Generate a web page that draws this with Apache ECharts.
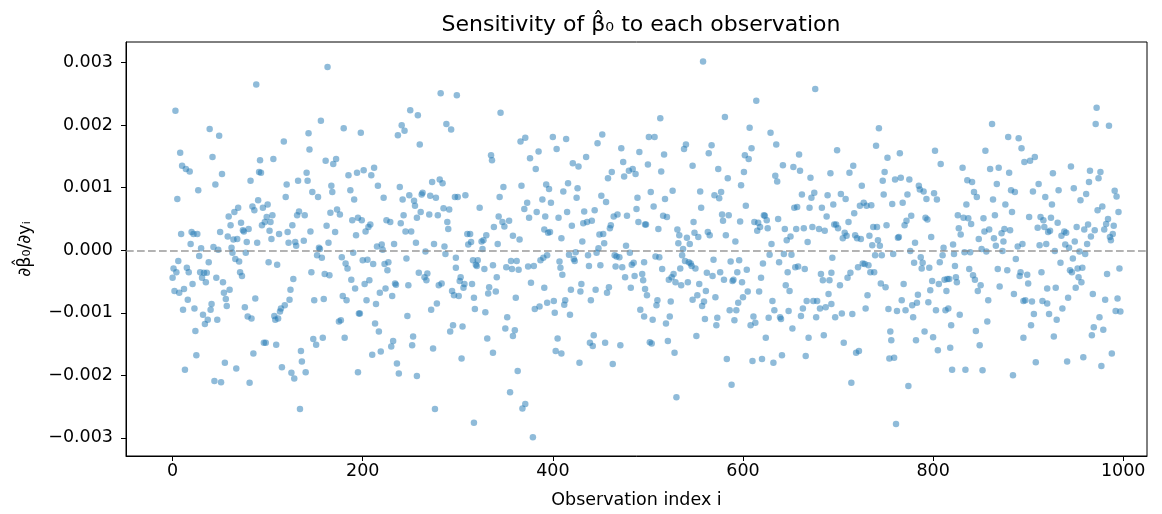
<!DOCTYPE html>
<html>
<head>
<meta charset="utf-8">
<script src="https://cdn.jsdelivr.net/npm/echarts@6/dist/echarts.min.js"></script>
<style>
  html, body { margin: 0; padding: 0; background: #fff; }
  #main { width: 1162px; height: 514px; }
</style>
</head>
<body>
<div id="main"></div>
<script>
// [observation index i, d(beta0_hat)/d(y_i) in units of 1e-3]
var obsA = [[88,2.65],[3,2.23],[39,1.94],[49,1.83],[8,1.56],[42,1.49],[92,1.44],[10,1.35],[14,1.30],[18,1.26],
  [52,1.22],[91,1.25],[93,1.24],[82,1.11],[45,1.05],[27,0.96],[5,0.82],[90,0.80],[84,0.70],[86,0.64],
  [95,0.68],[69,0.68],[65,0.61],[59,0.54],[61,0.40],[72,0.44],[94,0.40],[74,0.32],[75,0.30],[80,0.34],
  [9,0.26],[20,0.29],[22,0.26],[26,0.26],[50,0.29],[58,0.22],[64,0.17],[68,0.18],[78,0.13],[89,0.12],
  [19,0.10],[30,0.03],[43,0.05],[48,0.01],[62,0.04],[63,-0.04],[77,-0.04],[28,-0.09],[6,-0.17],[38,-0.19],
  [66,-0.14],[70,-0.18],[1,-0.29],[15,-0.28],[4,-0.35],[17,-0.35],[29,-0.35],[33,-0.36],[36,-0.36],[71,-0.35],
  [73,-0.41],[0,-0.44],[31,-0.44],[46,-0.44],[35,-0.51],[53,-0.51],[21,-0.54],[12,-0.62],[2,-0.65],[7,-0.68],
  [60,-0.63],[54,-0.68],[56,-0.78],[87,-0.77],[16,-0.79],[57,-0.89],[41,-0.86],[11,-0.95],[23,-0.93],[40,-0.95],
  [76,-0.91],[32,-1.03],[37,-1.11],[34,-1.18],[47,-1.11],[79,-1.06],[83,-1.09],[24,-1.29],[96,-1.48],[85,-1.65],
  [25,-1.68],[55,-1.80],[67,-1.89],[13,-1.91],[44,-2.09],[51,-2.11],[81,-2.12]];

var obsB = [[163,2.93],[156,2.07],[180,1.95],[143,1.87],[117,1.74],[144,1.61],[106,1.46],[161,1.43],[172,1.46],[169,1.38],
  [141,1.24],[185,1.20],[194,1.24],[120,1.05],[132,1.11],[142,1.11],[167,1.03],[147,0.93],[168,0.93],[187,0.96],
  [119,0.85],[153,0.85],[191,0.81],[100,0.73],[173,0.65],[166,0.60],[176,0.57],[105,0.56],[99,0.53],[131,0.56],
  [133,0.62],[139,0.56],[189,0.48],[195,0.52],[103,0.45],[97,0.45],[126,0.40],[162,0.39],[102,0.31],[112,0.26],
  [121,0.29],[145,0.30],[171,0.29],[193,0.24],[104,0.18],[122,0.12],[129,0.13],[138,0.15],[164,0.12],[130,0.07],
  [154,0.04],[155,0.02],[152,-0.08],[157,-0.12],[190,-0.04],[101,-0.19],[110,-0.23],[178,-0.11],[182,-0.21],[184,-0.29],
  [146,-0.35],[160,-0.38],[165,-0.40],[127,-0.46],[188,-0.47],[192,-0.61],[124,-0.63],[179,-0.73],[183,-0.80],[149,-0.80],
  [159,-0.78],[123,-0.79],[118,-0.88],[114,-0.93],[113,-0.98],[107,-1.05],[111,-1.09],[108,-1.11],[177,-1.12],[175,-1.14],
  [196,-1.01],[98,-1.48],[109,-1.51],[148,-1.42],[151,-1.51],[158,-1.40],[181,-1.40],[135,-1.61],[136,-1.78],[115,-1.87],
  [125,-1.96],[128,-2.05],[140,-1.95],[195,-1.95],[134,-2.54]];

var obsC = [[282,2.51],[250,2.24],[258,2.16],[241,2.00],[288,2.02],[244,1.91],[237,1.84],[293,1.93],[198,1.88],[260,1.69],
  [201,1.28],[212,1.32],[209,1.20],[216,1.03],[239,1.01],[281,1.13],[284,1.07],[273,1.09],[263,0.92],[262,0.89],
  [271,0.87],[277,0.84],[249,0.88],[242,0.81],[222,0.84],[254,0.79],[255,0.71],[297,0.85],[285,0.67],[291,0.65],
  [261,0.61],[270,0.57],[279,0.56],[257,0.52],[243,0.56],[199,0.48],[225,0.48],[229,0.45],[289,0.45],[208,0.41],
  [206,0.37],[240,0.43],[203,0.30],[245,0.30],[251,0.30],[290,0.34],[233,0.10],[256,0.12],[275,0.10],[215,0.06],
  [220,0.09],[221,0.01],[286,0.06],[266,-0.02],[287,-0.06],[298,-0.12],[200,-0.16],[205,-0.15],[211,-0.22],[227,-0.19],
  [223,-0.22],[226,-0.32],[246,-0.13],[259,-0.36],[268,-0.37],[265,-0.43],[267,-0.48],[207,-0.48],[202,-0.54],[218,-0.68],
  [224,-0.61],[234,-0.53],[235,-0.55],[248,-0.56],[280,-0.56],[283,-0.53],[231,-0.73],[204,-0.80],[214,-0.86],[294,-0.65],
  [296,-0.72],[278,-0.85],[272,-0.95],[197,-1.01],[247,-1.05],[213,-1.17],[217,-1.30],[292,-1.30],[295,-1.20],[232,-1.45],
  [230,-1.54],[253,-1.38],[252,-1.52],[219,-1.62],[210,-1.67],[274,-1.57],[236,-1.81],[238,-1.97],[257,-2.01],[276,-2.54]];

var obsD = [[299,2.48],[345,2.20],[366,1.74],[371,1.80],[385,1.58],[335,1.52],[336,1.44],[376,1.47],[382,1.30],[300,0.85],
  [308,0.88],[348,1.01],[344,0.85],[367,1.03],[393,1.05],[396,0.98],[323,0.68],[373,0.76],[370,0.66],[375,0.52],
  [383,0.61],[389,0.81],[392,0.54],[343,0.54],[347,0.45],[354,0.47],[349,0.38],[338,0.37],[330,0.24],[310,0.26],
  [313,0.26],[311,0.09],[314,0.13],[327,0.16],[325,0.14],[326,0.02],[342,0.10],[358,0.23],[365,0.17],[391,0.33],
  [395,0.28],[394,-0.08],[387,-0.16],[390,-0.12],[298,-0.28],[316,-0.16],[321,-0.16],[319,-0.23],[320,-0.25],[328,-0.30],
  [337,-0.24],[351,-0.27],[356,-0.17],[357,-0.30],[362,-0.17],[364,-0.31],[374,-0.26],[380,-0.25],[341,-0.43],[302,-0.49],
  [303,-0.43],[307,-0.54],[306,-0.60],[315,-0.54],[301,-0.73],[333,-0.59],[332,-0.69],[340,-0.66],[317,-0.76],[361,-0.76],
  [377,-0.52],[391,-0.60],[318,-0.94],[329,-0.99],[381,-0.94],[386,-0.90],[352,-1.07],[305,-1.22],[350,-1.25],[360,-1.28],
  [358,-1.37],[331,-1.41],[337,-1.64],[304,-1.73],[363,-1.93],[355,-2.27],[371,-2.46],[368,-2.53],[317,-2.76],[379,-2.99]];

var obsE = [[400,1.81],[414,1.78],[404,1.62],[452,1.85],[447,1.71],[472,1.63],[491,1.57],[421,1.39],[427,1.34],[435,1.49],
  [474,1.41],[462,1.25],[458,1.15],[475,1.18],[480,1.27],[484,1.30],[487,1.22],[416,1.07],[411,0.94],[426,0.99],
  [425,0.84],[398,0.76],[451,0.87],[456,0.77],[489,0.84],[488,0.66],[415,0.61],[406,0.52],[433,0.62],[444,0.64],
  [464,0.54],[468,0.57],[478,0.55],[490,0.45],[497,0.41],[432,0.43],[436,0.45],[441,0.47],[420,0.39],[461,0.40],
  [460,0.35],[397,0.29],[409,0.19],[449,0.25],[453,0.26],[431,0.14],[454,0.11],[477,0.07],[448,0.03],[424,-0.03],
  [417,-0.07],[422,-0.14],[423,-0.17],[437,-0.08],[446,-0.04],[465,-0.08],[467,-0.10],[470,-0.11],[481,-0.04],[407,-0.18],
  [408,-0.28],[410,-0.39],[438,-0.25],[450,-0.24],[466,-0.26],[473,-0.27],[483,-0.23],[485,-0.20],[496,-0.19],[494,-0.38],
  [476,-0.43],[486,-0.41],[495,-0.48],[430,-0.54],[419,-0.63],[429,-0.66],[445,-0.63],[459,-0.59],[457,-0.68],[482,-0.60],
  [497,-0.62],[394,-0.84],[401,-0.81],[402,-1.00],[413,-0.80],[412,-0.87],[418,-1.03],[440,-0.80],[492,-0.95],[496,-1.06],
  [405,-1.41],[403,-1.61],[409,-1.65],[443,-1.36],[439,-1.48],[442,-1.53],[455,-1.48],[471,-1.52],[428,-1.80],[463,-1.82]];

var obsF = [[558,3.02],[581,2.13],[513,2.11],[501,1.81],[507,1.81],[540,1.69],[538,1.62],[567,1.68],[564,1.55],[517,1.53],
  [500,1.37],[514,1.26],[547,1.35],[574,1.30],[584,1.15],[503,0.93],[526,0.95],[555,0.94],[570,0.88],[575,0.83],
  [577,0.93],[518,0.82],[506,0.70],[556,0.68],[578,0.57],[585,0.56],[579,0.47],[516,0.55],[520,0.53],[498,0.41],
  [548,0.45],[511,0.34],[531,0.33],[533,0.24],[541,0.20],[544,0.10],[549,0.28],[553,0.21],[563,0.29],[565,0.24],
  [582,0.24],[592,0.14],[532,0.11],[537,0.02],[536,-0.08],[539,-0.17],[543,-0.19],[545,-0.21],[546,-0.25],[550,-0.29],
  [508,-0.10],[512,-0.11],[569,-0.15],[587,-0.18],[596,-0.16],[515,-0.30],[534,-0.29],[522,-0.47],[525,-0.43],[527,-0.38],
  [529,-0.51],[535,-0.56],[542,-0.51],[562,-0.36],[568,-0.41],[576,-0.35],[580,-0.47],[589,-0.49],[590,-0.47],[594,-0.35],
  [554,-0.54],[499,-0.72],[509,-0.88],[510,-0.80],[524,-0.82],[547,-0.79],[552,-0.72],[557,-0.89],[559,-0.82],[561,-0.65],
  [571,-0.75],[595,-0.84],[505,-1.11],[519,-1.17],[523,-1.06],[560,-1.10],[573,-1.08],[572,-1.20],[586,-0.96],[591,-1.12],
  [502,-1.47],[504,-1.49],[521,-1.45],[551,-1.37],[528,-1.64],[583,-1.74],[588,-2.15],[530,-2.35]];

var obsG = [[676,2.58],[614,2.39],[607,1.96],[629,1.88],[635,1.69],[609,1.63],[602,1.52],[606,1.46],[659,1.53],[642,1.36],
  [653,1.33],[660,1.27],[601,1.25],[634,1.19],[636,1.10],[671,1.16],[692,1.23],[598,1.04],[662,0.89],[675,0.92],
  [672,0.84],[689,0.88],[603,0.71],[654,0.68],[657,0.69],[670,0.68],[683,0.68],[695,0.73],[688,0.54],[622,0.56],
  [623,0.55],[625,0.48],[637,0.50],[597,0.46],[612,0.45],[616,0.44],[618,0.37],[615,0.31],[626,0.35],[644,0.34],
  [656,0.34],[664,0.35],[673,0.37],[680,0.34],[686,0.31],[696,0.41],[650,0.22],[646,0.16],[668,0.13],[630,0.10],
  [628,-0.07],[643,-0.06],[651,-0.07],[621,-0.21],[638,-0.19],[655,-0.27],[658,-0.26],[665,-0.30],[647,-0.35],[694,-0.12],
  [682,-0.38],[684,-0.48],[691,-0.48],[693,-0.36],[604,-0.31],[599,-0.51],[619,-0.44],[645,-0.56],[649,-0.65],[605,-0.66],
  [617,-0.66],[600,-0.75],[690,-0.70],[593,-0.96],[631,-0.81],[633,-0.96],[648,-0.97],[667,-0.81],[674,-0.81],[678,-0.81],
  [663,-0.93],[681,-0.93],[687,-0.91],[693,-0.86],[697,-1.07],[639,-1.07],[640,-1.10],[627,-1.08],[611,-1.06],[608,-1.20],
  [613,-1.16],[677,-1.07],[661,-1.05],[652,-1.25],[685,-1.36],[669,-1.40],[624,-1.40],[610,-1.77],[620,-1.74],[632,-1.80],
  [641,-1.68],[666,-1.69]];

var obsH = [[743,1.95],[740,1.67],[699,1.60],[752,1.48],[765,1.55],[712,1.24],[716,1.35],[749,1.25],[747,1.11],[760,1.13],
  [766,1.16],[775,1.13],[725,1.03],[785,1.03],[786,0.97],[790,0.94],[793,0.82],[703,0.90],[708,0.82],[748,0.89],
  [773,0.89],[757,0.74],[768,0.76],[723,0.71],[727,0.76],[730,0.71],[735,0.72],[717,0.59],[777,0.55],[772,0.47],
  [770,0.40],[792,0.52],[794,0.49],[711,0.45],[698,0.41],[700,0.35],[707,0.28],[705,0.19],[709,0.23],[718,0.24],
  [720,0.19],[724,0.18],[733,0.23],[737,0.37],[741,0.37],[742,0.16],[736,0.08],[744,0.07],[751,0.40],[763,0.20],
  [764,0.21],[781,0.12],[739,-0.08],[746,-0.08],[758,-0.06],[776,-0.01],[787,-0.11],[780,-0.20],[789,-0.20],[788,-0.29],
  [796,-0.28],[721,-0.27],[726,-0.21],[728,-0.22],[732,-0.24],[734,-0.35],[738,-0.35],[713,-0.36],[710,-0.44],[702,-0.56],
  [745,-0.53],[750,-0.59],[769,-0.54],[731,-0.72],[767,-0.80],[778,-0.88],[784,-0.71],[783,-0.84],[795,-0.83],[704,-1.01],
  [715,-1.02],[729,-0.93],[753,-0.94],[762,-0.97],[771,-0.96],[779,-1.07],[755,-1.30],[756,-1.44],[782,-1.44],[791,-1.30],
  [706,-1.48],[719,-1.64],[722,-1.61],[754,-1.73],[759,-1.72],[714,-2.12],[774,-2.17],[761,-2.78]];

var obsI = [[862,2.02],[879,1.81],[890,1.79],[893,1.63],[802,1.59],[855,1.59],[808,1.38],[831,1.32],[860,1.30],[869,1.32],
  [880,1.24],[836,1.12],[841,1.09],[867,1.06],[882,0.96],[886,0.93],[801,0.91],[843,0.93],[846,0.85],[804,0.81],
  [863,0.81],[835,0.73],[876,0.73],[883,0.61],[826,0.56],[832,0.52],[837,0.51],[840,0.42],[853,0.51],[865,0.56],
  [827,0.35],[829,0.25],[798,0.21],[848,0.18],[854,0.30],[859,0.33],[864,0.19],[872,0.27],[875,0.34],[881,0.32],
  [874,0.14],[866,0.07],[811,0.04],[821,0.09],[851,0.02],[856,-0.02],[833,-0.03],[839,-0.03],[873,-0.01],[889,0.06],
  [894,0.10],[810,-0.08],[822,-0.06],[887,-0.14],[807,-0.19],[823,-0.25],[838,-0.30],[842,-0.40],[868,-0.30],[878,-0.32],
  [891,-0.41],[892,-0.35],[824,-0.43],[825,-0.51],[812,-0.47],[815,-0.46],[817,-0.46],[806,-0.54],[799,-0.49],[844,-0.47],
  [850,-0.56],[847,-0.65],[870,-0.58],[814,-0.65],[797,-0.64],[885,-0.70],[858,-0.80],[895,-0.81],[803,-0.96],[813,-0.96],
  [816,-0.93],[828,-1.03],[857,-1.14],[819,-1.20],[845,-1.29],[800,-1.39],[895,-1.40],[805,-1.60],[818,-1.56],[849,-1.52],
  [820,-1.91],[834,-1.91],[852,-1.92],[884,-2.00]];

var obsJ = [[972,2.28],[971,2.02],[985,1.99],[896,1.41],[902,1.43],[907,1.49],[945,1.34],[926,1.23],[965,1.27],[976,1.25],
  [974,1.15],[964,1.09],[911,1.06],[905,0.94],[932,0.96],[948,0.99],[991,0.95],[993,0.86],[918,0.85],[925,0.73],
  [955,0.80],[961,0.90],[978,0.70],[973,0.64],[995,0.61],[901,0.53],[913,0.53],[916,0.48],[924,0.52],[910,0.36],
  [917,0.37],[921,0.29],[923,0.31],[931,0.44],[938,0.30],[940,0.28],[935,0.23],[951,0.37],[959,0.33],[963,0.41],
  [966,0.22],[970,0.32],[980,0.33],[982,0.42],[984,0.50],[990,0.39],[989,0.26],[986,0.21],[987,0.16],[949,0.14],
  [939,0.09],[943,0.04],[962,0.10],[912,0.08],[919,0.10],[928,-0.01],[954,-0.02],[960,-0.06],[947,-0.13],[934,-0.20],
  [944,-0.32],[946,-0.35],[952,-0.29],[957,-0.28],[953,-0.43],[956,-0.51],[950,-0.60],[996,-0.29],[983,-0.38],[914,-0.35],
  [899,-0.39],[900,-0.53],[920,-0.61],[929,-0.60],[968,-0.70],[942,-0.76],[981,-0.79],[994,-0.77],[897,-0.80],[904,-0.82],
  [915,-0.81],[920,-0.85],[936,-0.93],[906,-1.02],[922,-1.02],[930,-1.11],[975,-1.07],[992,-0.97],[997,-0.98],[903,-1.20],
  [969,-1.23],[979,-1.27],[967,-1.36],[927,-1.38],[908,-1.79],[941,-1.78],[958,-1.71],[988,-1.65],[977,-1.85]];

var xTicks = [0, 200, 400, 600, 800, 1000];
var yTicks = [-0.003, -0.002, -0.001, 0, 0.001, 0.002, 0.003];

var points = [].concat(obsA, obsB, obsC, obsD, obsE, obsF, obsG, obsH, obsI, obsJ)
  .map(function (p) { return [p[0], p[1] * 1e-3]; });

var myChart = echarts.init(document.getElementById('main'));

var font = 'DejaVu Sans';

// matplotlib style: unicode minus, three decimals
function fmtY(v) {
  var s = Math.abs(v).toFixed(3);
  return (v < -1e-9 ? '\u2212' : '') + s;
}

option = {
  animation: false,
  backgroundColor: '#fff',
  title: {
    text: 'Sensitivity of \u03b2\u0302\u2080 to each observation',
    left: 636,
    top: 9,
    textAlign: 'center',
    textStyle: { fontFamily: font, fontSize: 22, fontWeight: 'normal', color: '#000' }
  },
  grid: {
    left: 126, right: 15, top: 42, bottom: 57,
    show: true, borderColor: '#000', borderWidth: 1, backgroundColor: 'transparent'
  },
  xAxis: {
    type: 'value',
    min: -49, max: 1025,
    name: 'Observation index i',
    nameLocation: 'middle',
    nameGap: 35,
    nameTextStyle: { fontFamily: font, fontSize: 17.5, color: '#000' },
    axisLine: { show: true, onZero: false, lineStyle: { color: '#000', width: 1 } },
    axisTick: { show: true, length: 5, lineStyle: { color: '#000' }, customValues: xTicks },
    axisLabel: {
      fontFamily: font, fontSize: 17.5, color: '#000', margin: 6, customValues: xTicks,
      formatter: function (v) { return String(Math.round(v)); }
    },
    splitLine: { show: false }
  },
  yAxis: {
    type: 'value',
    min: -0.00329, max: 0.00333,
    name: '\u2202\u03b2\u0302\u2080/\u2202y\u1d62',
    nameLocation: 'middle',
    nameGap: 92,
    nameTextStyle: { fontFamily: font, fontSize: 17.5, color: '#000' },
    axisLine: { show: true, onZero: false, lineStyle: { color: '#000', width: 1 } },
    axisTick: { show: true, length: 5, lineStyle: { color: '#000' }, customValues: yTicks },
    axisLabel: { fontFamily: font, fontSize: 17.5, color: '#000', margin: 13, customValues: yTicks, formatter: fmtY },
    splitLine: { show: false }
  },
  series: [{
    type: 'scatter',
    data: points,
    symbolSize: 6.5,
    itemStyle: { color: '#1f77b4', opacity: 0.5 },
    markLine: {
      silent: true,
      symbol: 'none',
      label: { show: false },
      lineStyle: { color: 'rgba(128,128,128,0.6)', width: 2, type: [7.7, 3.3] },
      data: [{ yAxis: 0 }]
    }
  }]
};

myChart.setOption(option);
</script>
</body>
</html>
